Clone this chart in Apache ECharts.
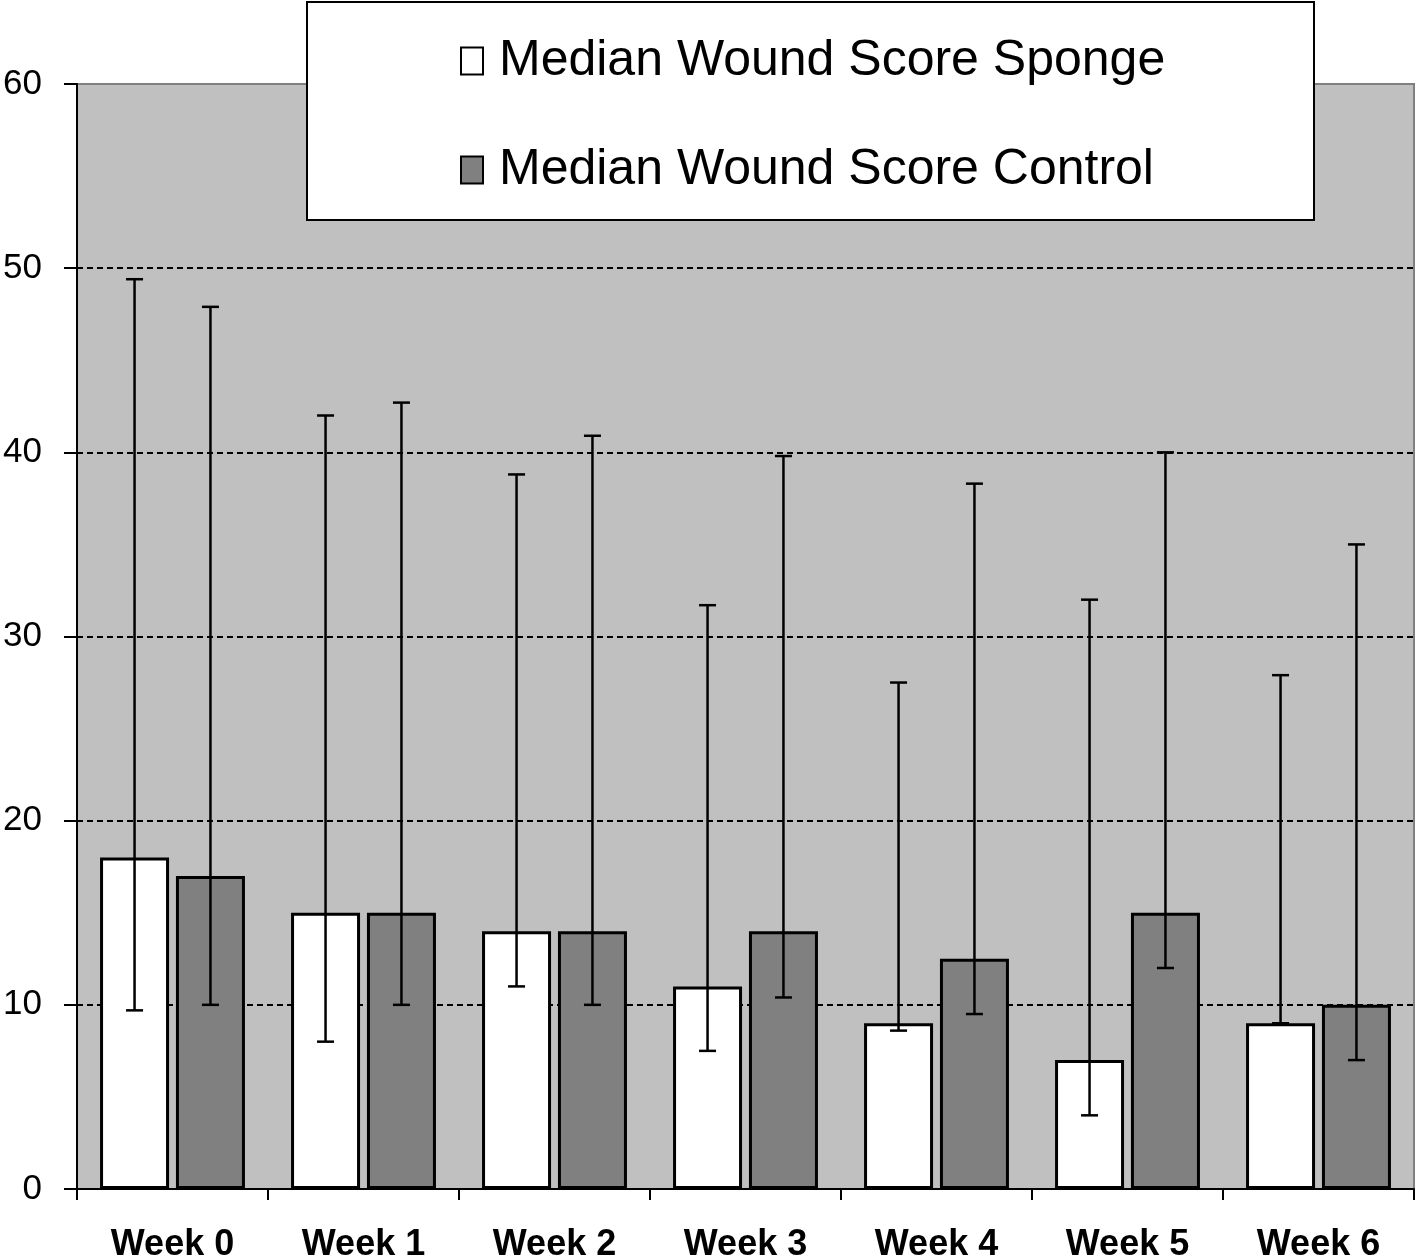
<!DOCTYPE html>
<html>
<head>
<meta charset="utf-8">
<script src="https://cdn.jsdelivr.net/npm/echarts@6/dist/echarts.min.js"></script>
<style>
html,body{margin:0;padding:0;background:#fff;}
#chart{width:1418px;height:1257px;}
</style>
</head>
<body>
<div id="chart"></div>
<script>
const categories = ['Week 0','Week 1','Week 2','Week 3','Week 4','Week 5','Week 6'];
const spongeMedian = [18, 15, 14, 11, 9, 7, 9];
const controlMedian = [17, 15, 14, 14, 12.5, 15, 10];
const spongeLow  = [9.7, 8, 11, 7.5, 8.6, 4, 9];
const spongeHigh = [49.4, 42, 38.8, 31.7, 27.5, 32, 27.9];
const controlLow  = [10, 10, 10, 10.4, 9.5, 12, 7];
const controlHigh = [47.9, 42.7, 40.9, 39.8, 38.3, 40, 35];
const yTicks = [0, 10, 20, 30, 40, 50, 60];
const seriesNames = ['Median Wound Score Sponge', 'Median Wound Score Control'];

const FONT = "'Liberation Sans', Arial, sans-serif";
const BAR_W = 69;
const BAR_GAP = 0.10;
const OFFSET = (BAR_W + BAR_W * BAR_GAP) / 2;

function errData(low, high) {
  return categories.map((c, i) => [i, low[i], high[i]]);
}

function errRender(sign) {
  return function (params, api) {
    const i = api.value(0);
    const lo = api.coord([i, api.value(1)]);
    const hi = api.coord([i, api.value(2)]);
    const x = lo[0] + sign * OFFSET;
    const cap = 8.5;
    const style = { stroke: '#000', lineWidth: 2.5, fill: null };
    return {
      type: 'group',
      children: [
        { type: 'line', shape: { x1: x, y1: lo[1], x2: x, y2: hi[1] }, style },
        { type: 'line', shape: { x1: x - cap, y1: lo[1], x2: x + cap, y2: lo[1] }, style },
        { type: 'line', shape: { x1: x - cap, y1: hi[1], x2: x + cap, y2: hi[1] }, style }
      ]
    };
  };
}

const chart = echarts.init(document.getElementById('chart'), null, { renderer: 'canvas' });
chart.setOption({
  animation: false,
  backgroundColor: '#ffffff',
  textStyle: { fontFamily: FONT },
  grid: {
    left: 77, right: 4, top: 84, bottom: 68,
    containLabel: false, outerBoundsMode: 'none',
    show: true, backgroundColor: '#c0c0c0', borderColor: '#808080', borderWidth: 2
  },
  graphic: [{
    type: 'rect', z: 10,
    shape: { x: 307, y: 2, width: 1007, height: 218 },
    style: { fill: '#ffffff', stroke: '#000000', lineWidth: 2 }
  }],
  legend: {
    z: 20,
    orient: 'vertical',
    left: 455, top: 26,
    itemWidth: 22, itemHeight: 27,
    itemGap: 49,
    icon: 'rect',
    data: seriesNames,
    textStyle: { fontSize: 50, lineHeight: 60, color: '#000', fontFamily: FONT, padding: [0, 0, 0, 11] }
  },
  xAxis: {
    type: 'category',
    data: categories,
    axisLine: { lineStyle: { color: '#000', width: 2 } },
    axisTick: { show: true, length: 11, lineStyle: { color: '#000', width: 2 } },
    axisLabel: { fontSize: 36, fontWeight: 'bold', color: '#000', margin: 38, fontFamily: FONT },
    splitLine: { show: false }
  },
  yAxis: {
    type: 'value',
    min: 0, max: 60, interval: 10,
    axisLine: { show: true, lineStyle: { color: '#000', width: 2 } },
    axisTick: { show: true, length: 13, lineStyle: { color: '#000', width: 2 } },
    axisLabel: {
      fontSize: 35, color: '#000', margin: 35, fontFamily: FONT,
      formatter: v => yTicks.includes(v) ? String(v) : ''
    },
    splitLine: {
      show: true,
      lineStyle: {
        color: ['#000', '#000', '#000', '#000', '#000', '#000', 'rgba(0,0,0,0)'],
        width: 2, type: [6, 4]
      }
    }
  },
  series: [
    {
      name: seriesNames[0], type: 'bar', data: spongeMedian,
      barWidth: BAR_W, barGap: (BAR_GAP * 100) + '%',
      itemStyle: { color: '#ffffff', borderColor: '#000', borderWidth: 3 }, z: 3
    },
    {
      name: seriesNames[1], type: 'bar', data: controlMedian,
      barWidth: BAR_W, barGap: (BAR_GAP * 100) + '%',
      itemStyle: { color: '#808080', borderColor: '#000', borderWidth: 3 }, z: 3
    },
    {
      type: 'custom', name: 'errS', data: errData(spongeLow, spongeHigh),
      renderItem: errRender(-1), z: 5, silent: true,
      encode: { x: 0, y: [1, 2] }
    },
    {
      type: 'custom', name: 'errC', data: errData(controlLow, controlHigh),
      renderItem: errRender(1), z: 5, silent: true,
      encode: { x: 0, y: [1, 2] }
    }
  ]
});
</script>
</body>
</html>
